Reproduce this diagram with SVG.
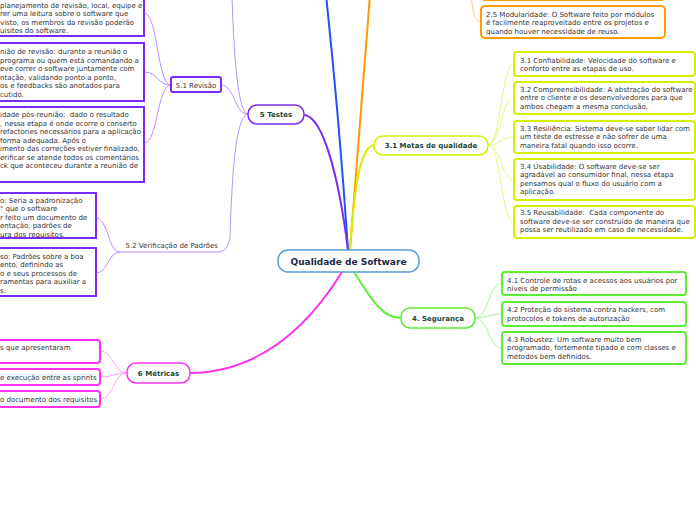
<svg xmlns="http://www.w3.org/2000/svg" width="696" height="520" viewBox="0 0 696 520">
<style>
text{font-family:"DejaVu Sans",Verdana,sans-serif;font-size:7px;fill:#333;white-space:pre}
.b{font-weight:bold;fill:#1b4536}
.c{font-weight:bold;font-size:9px;fill:#1a2748}
.m{fill:none;stroke-width:2;stroke-linecap:round}
.s{fill:none;stroke-width:1}
.pu{stroke:#7a2cf5}.pul{stroke:#b690ff}
.yg{stroke:#d2f000}.ygl{stroke:#e4f780}
.gr{stroke:#5cee33}.grl{stroke:#a6f59a}
.mg{stroke:#ff30f0}.mgl{stroke:#ffa0f8}
.or{stroke:#ff9a00}.orl{stroke:#ffcf90}
.bl{stroke:#2050ff}
.box{fill:#fff;stroke-width:2}
.pill{fill:#fff;stroke-width:1.5}
</style>
<g id="connectors">
<path class="m bl" d="M348,250 C342,160 334,70 326,-5"/>
<path class="m or" d="M350,250 C357,160 364,70 370,-5"/>
<path class="m pu" d="M348,250 C338,170 322,118 305,115"/>
<path class="m yg" d="M350,250 C354,190 360,146 374,145"/>
<path class="m mg" d="M342,272 C300,340 250,372 190,373"/>
<path class="m gr" d="M354,272 C372,300 382,318 401,318"/>
<path class="s orl" d="M471,-5 C473,14 475,22 481,22"/>
<path class="s pul" d="M248,114 C238,112 234,60 232,-5"/>
<path class="s pul" d="M248,114 C234,114 235,85 221,85"/>
<path class="s pul" d="M248,114 C236,116 232,170 230,238 Q228,252 218,252 L120,252"/>
<path class="s pul" d="M171,85 C157,85 158,13 144,13"/>
<path class="s pul" d="M171,85 C157,85 158,72 144,72"/>
<path class="s pul" d="M171,85 C157,85 158,143 144,143"/>
<path class="s pul" d="M120,252 C108,252 108,218 96,218"/>
<path class="s pul" d="M120,252 C108,252 108,273 96,273"/>
<path class="s mgl" d="M127,373 C113,373 114,351 100,351"/>
<path class="s mgl" d="M127,373 C113,373 114,377 100,377"/>
<path class="s mgl" d="M127,373 C113,373 114,399 100,399"/>
<path class="s ygl" d="M488,145 C501,145 501,64 514,64"/>
<path class="s ygl" d="M488,145 C501,145 501,98 514,98"/>
<path class="s ygl" d="M488,145 C501,145 501,137 514,137"/>
<path class="s ygl" d="M488,145 C501,145 501,180 514,180"/>
<path class="s ygl" d="M488,145 C501,145 501,222 514,222"/>
<path class="s grl" d="M475,318 C488,318 489,283 502,283"/>
<path class="s grl" d="M475,318 C488,318 489,314 502,314"/>
<path class="s grl" d="M475,318 C488,318 489,348 502,348"/>
</g>
<g id="center">
<rect x="278" y="250" width="141" height="22" rx="10" fill="#fff" stroke="#5b9bd5" stroke-width="1.5"/>
<text class="c" x="348.5" y="264.5" text-anchor="middle">Qualidade de Software</text>
</g>
<g id="n5">
<rect class="pill pu" x="248" y="105" width="56" height="19" rx="9"/>
<text class="b" x="276" y="117" text-anchor="middle">5 Testes</text>
</g>
<g id="n51">
<rect class="box pu" x="171" y="77" width="50" height="15" rx="2"/>
<text x="196" y="87.5" text-anchor="middle">5.1 Revisão</text>
</g>
<g id="n52">
<text x="218" y="248" text-anchor="end">5.2 Verificação de Padrões</text>
</g>
<g id="n51a">
<rect class="box pu" x="-20" y="-20" width="164" height="56"/>
<text x="0" y="7.5">planejamento de revisão, local, equipe e</text>
<text x="0" y="16">rer uma leitura sobre o software que</text>
<text x="0" y="24.5">visto, os membros da revisão poderão</text>
<text x="0" y="33">uisitos do software.</text>
</g>
<g id="n51b">
<rect class="box pu" x="-20" y="43" width="164" height="58"/>
<text x="0" y="54">nião de revisão: durante a reunião o</text>
<text x="0" y="62.5">programa ou quem está comandando a</text>
<text x="0" y="71">eve correr o software juntamente com</text>
<text x="0" y="79.5">ntação, validando ponto a ponto,</text>
<text x="0" y="88">os e feedbacks são anotados para</text>
<text x="0" y="96.5">cutido.</text>
</g>
<g id="n51c">
<rect class="box pu" x="-20" y="107" width="164" height="75"/>
<text x="0" y="117">idade pós-reunião:  dado o resultado</text>
<text x="0" y="125.5">, nessa etapa é onde ocorre o conserto</text>
<text x="0" y="134">refactories necessários para a aplicação</text>
<text x="0" y="142.5">forma adequada. Após o</text>
<text x="0" y="151">imento das correções estiver finalizado,</text>
<text x="0" y="159.5">erificar se atende todos os comentários</text>
<text x="0" y="168">ck que aconteceu durante a reunião de</text>
</g>
<g id="n52a">
<rect class="box pu" x="-20" y="193" width="116" height="45"/>
<text x="0" y="202.5">o: Seria a padronização</text>
<text x="0" y="211">" que o software</text>
<text x="0" y="219.5">r feito um documento de</text>
<text x="0" y="228">entação, padrões de</text>
<text x="0" y="236.5">ura dos requisitos.</text>
</g>
<g id="n52b">
<rect class="box pu" x="-20" y="248" width="116" height="48"/>
<text x="0" y="258.5">so: Padrões sobre a boa</text>
<text x="0" y="267">ento, definindo as</text>
<text x="0" y="275.5">o e seus processos de</text>
<text x="0" y="284">ramentas para auxiliar a</text>
<text x="0" y="292.5">s.</text>
</g>
<g id="n6">
<rect class="pill mg" x="127" y="363" width="63" height="20" rx="9"/>
<text class="b" x="158.5" y="375.5" text-anchor="middle">6 Métricas</text>
</g>
<g id="n6a">
<rect class="box mg" x="-20" y="340" width="120" height="23" rx="3"/>
<text x="0" y="350">s que apresentaram</text>
</g>
<g id="n6b">
<rect class="box mg" x="-20" y="369" width="120" height="16" rx="3"/>
<text x="0" y="379.5">e execução entre as sprints</text>
</g>
<g id="n6c">
<rect class="box mg" x="-20" y="391" width="120" height="16" rx="3"/>
<text x="0" y="401.5">o documento dos requisitos</text>
</g>
<g id="n3">
<rect class="pill yg" x="374" y="136" width="114" height="19" rx="9"/>
<text class="b" x="431" y="148" text-anchor="middle">3.1 Metas de qualidade</text>
</g>
<g id="n31">
<rect class="box yg" x="514" y="52" width="181" height="24" rx="3"/>
<text x="520" y="62.5">3.1 Confiabilidade: Velocidade do software e</text>
<text x="520" y="71">conforto entre as etapas de uso.</text>
</g>
<g id="n32">
<rect class="box yg" x="514" y="82" width="181" height="32" rx="3"/>
<text x="520" y="91.5">3.2 Compreensibilidade: A abstração do software</text>
<text x="520" y="100">entre o cliente e os desenvolvedores para que</text>
<text x="520" y="108.5">ambos chegam a mesma conclusão.</text>
</g>
<g id="n33">
<rect class="box yg" x="514" y="121" width="181" height="32" rx="3"/>
<text x="520" y="130.5">3.3 Resiliência: Sistema deve-se saber lidar com</text>
<text x="520" y="139">um teste de estresse e não sofrer de uma</text>
<text x="520" y="147.5">maneira fatal quando isso ocorre.</text>
</g>
<g id="n34">
<rect class="box yg" x="514" y="159" width="181" height="41" rx="3"/>
<text x="520" y="168.5">3.4 Usabilidade: O software deve-se ser</text>
<text x="520" y="177">agradável ao consumidor final, nessa etapa</text>
<text x="520" y="185.5">pensamos qual o fluxo do usuário com a</text>
<text x="520" y="194">aplicação.</text>
</g>
<g id="n35">
<rect class="box yg" x="514" y="206" width="181" height="32" rx="3"/>
<text x="520" y="215">3.5 Reusabilidade:  Cada componente do</text>
<text x="520" y="223.5">software deve-se ser construído de maneira que</text>
<text x="520" y="232">possa ser reutilizado em caso de necessidade.</text>
</g>
<g id="n4">
<rect class="pill gr" x="401" y="308" width="74" height="20" rx="9"/>
<text class="b" x="438" y="320.5" text-anchor="middle">4. Segurança</text>
</g>
<g id="n41">
<rect class="box gr" x="502" y="272" width="184" height="23" rx="3"/>
<text x="507" y="282.5">4.1 Controle de rotas e acessos aos usuários por</text>
<text x="507" y="291">níveis de permissão</text>
</g>
<g id="n42">
<rect class="box gr" x="502" y="302" width="184" height="24" rx="3"/>
<text x="507" y="312">4.2 Proteção do sistema contra hackers, com</text>
<text x="507" y="320.5">protocolos e tokens de autorização</text>
</g>
<g id="n43">
<rect class="box gr" x="502" y="332" width="184" height="32" rx="3"/>
<text x="507" y="341.5">4.3 Robustez: Um software muito bem</text>
<text x="507" y="350">programado, fortemente tipado e com classes e</text>
<text x="507" y="358.5">métodos bem definidos.</text>
</g>
<g id="n24">
<rect class="box or" x="481" y="-30" width="184" height="30" rx="4"/>
</g>
<g id="n25">
<rect class="box or" x="481" y="6" width="184" height="32" rx="4"/>
<text x="486" y="16.5">2.5 Modularidade: O Software feito por módulos</text>
<text x="486" y="25">é facilmente reaproveitado entre os projetos e</text>
<text x="486" y="33.5">quando houver necessidade de reuso.</text>
</g>
</svg>
